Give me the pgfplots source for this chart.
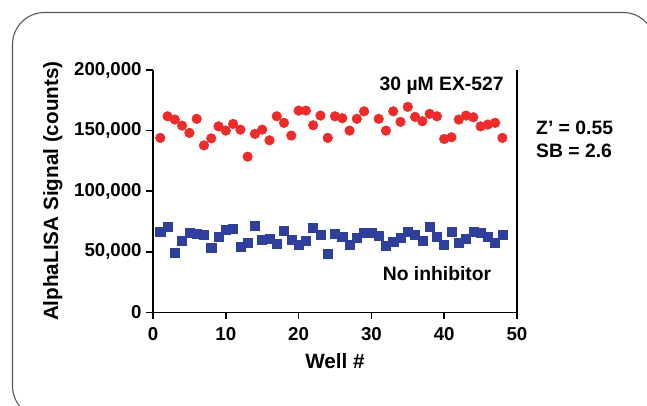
\documentclass[border=0pt]{standalone}
\usepackage{fontspec}
\setmainfont{Liberation Sans}
\usepackage{pgfplots}
\usepackage{pgfplotstable}
\pgfplotsset{compat=1.18}
\definecolor{ptRed}{HTML}{EE2B2B}
\definecolor{ptBlue}{HTML}{2E3F9C}
\definecolor{frameG}{HTML}{555555}

% 30 uM EX-527 (well 30 has no point in the source)
\pgfplotstableread{
well sig
1 144000
2 161800
3 159100
4 154100
5 148100
6 159700
7 137800
8 143600
9 153500
10 150000
11 155500
12 150800
13 128500
14 147300
15 150800
16 142000
17 161800
18 156400
19 145900
20 166500
21 166500
22 154400
23 162400
24 144000
25 161800
26 160200
27 150000
28 159700
29 165900
31 159700
32 150000
33 165900
34 157200
35 169600
36 161300
37 157700
38 163800
39 161800
40 143100
41 144500
42 159100
43 162400
44 161000
45 153500
46 155000
47 156400
48 144000
}\redtab

% no inhibitor
\pgfplotstableread{
well sig
1 66800
2 70900
3 49400
4 59300
5 65900
6 64900
7 63800
8 53100
9 62100
10 68200
11 68800
12 54400
13 57700
14 71500
15 59900
16 60500
17 56600
18 67600
19 59900
20 55800
21 59300
22 69600
23 64000
24 48800
25 64900
26 62600
27 55800
28 61300
29 65500
30 65500
31 63500
32 55200
33 58500
34 61300
35 66800
36 64000
37 59100
38 70400
39 62100
40 55800
41 66800
42 57200
43 60500
44 66800
45 65900
46 62600
47 57200
48 64000
}\bluetab

\begin{document}
\begin{tikzpicture}[x=0.75pt,y=0.75pt]
\useasboundingbox (0,0) rectangle (647,406);
\draw[frameG, line width=0.8pt, rounded corners=24pt] (12.5,-12) rectangle (655,393.5);
\begin{axis}[
  at={(114.75pt,70.125pt)}, anchor=south west,
  scale only axis, width=273pt, height=181.9pt,
  xmin=0, xmax=50, ymin=0, ymax=200000,
  axis x line*=bottom, axis y line*=left,
  axis line style={line width=1.1pt},
  tick align=outside, major tick length=5pt,
  every tick/.style={black, line width=1.1pt},
  xtick={0,10,20,30,40,50}, xticklabels={0,10,20,30,40,50},
  ytick={0,50000,100000,150000,200000},
  yticklabels={0,{50,000},{100,000},{150,000},{200,000}},
  scaled x ticks=false, scaled y ticks=false,
  ticklabel style={font=\bfseries\fontsize{14}{16}\selectfont},
  xticklabel style={yshift=-3pt},
  xlabel={Well \#}, ylabel={AlphaLISA Signal (counts)},
  label style={font=\bfseries\fontsize{15.5}{18}\selectfont},
  xlabel style={at={(axis description cs:0.5,-0.2)}, anchor=center},
  ylabel style={at={(axis description cs:-0.275,0.5)}, anchor=center},
  clip=false,
]
\addplot[only marks, mark=*, mark size=3.6pt, color=ptRed]
  table[x=well, y=sig] {\redtab};
\addplot[only marks, mark=square*, mark size=3.4pt, color=ptBlue]
  table[x=well, y=sig] {\bluetab};
\draw[line width=1.1pt] (rel axis cs:1,0) -- (rel axis cs:1,1);
\node[anchor=east, inner sep=0pt, font=\bfseries\fontsize{14.5}{17}\selectfont]
  at (axis cs:48.2,187000) {30 µM EX-527};
\node[anchor=east, inner sep=0pt, font=\bfseries\fontsize{14.5}{17}\selectfont]
  at (axis cs:46.5,31800) {No inhibitor};
\node[anchor=west, inner sep=0pt, font=\bfseries\fontsize{14.5}{17}\selectfont]
  at (axis cs:52.6,152400) {Z' = 0.55};
\node[anchor=west, inner sep=0pt, font=\bfseries\fontsize{14.5}{17}\selectfont]
  at (axis cs:52.6,133400) {SB = 2.6};
\end{axis}
\end{tikzpicture}
\end{document}
